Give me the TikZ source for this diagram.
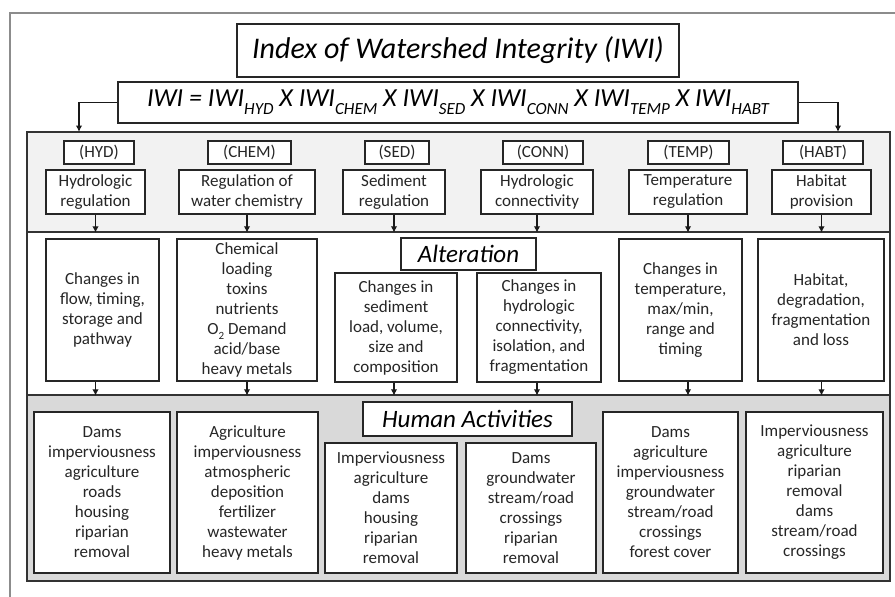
\documentclass[tikz,border=0pt]{standalone}
\usepackage{fontspec}
\usetikzlibrary{arrows.meta}
\setmainfont{Carlito}
\newcommand{\lowsub}[2]{\raisebox{-0.3em}{\fontsize{#1}{#1}\selectfont #2}}
\begin{document}
\begin{tikzpicture}[x=1pt,y=-1pt]
	\tikzstyle{frameline}=[black!45,line width=1.5pt]
	\tikzstyle{band}=[draw=black!80,line width=1.5pt,inner sep=0pt,minimum width=863pt]
	\tikzstyle{box}=[draw=black!85,fill=white,line width=1.3pt,align=center,inner sep=0pt,text=black!85,font=\fontsize{17}{20}\selectfont]
	\tikzstyle{tag}=[box,minimum height=23pt]
	\tikzstyle{heading}=[draw=black!85,fill=white,line width=1.3pt,inner sep=0pt,font=\fontsize{25}{30}\selectfont\itshape]
	\tikzstyle{myarrow}=[line width=1.3pt,black!90,-{Latex[length=6.5pt,width=6.5pt]}]
	\useasboundingbox (0,0) rectangle (895,597);

	% open frame round the figure
	\draw[frameline] (10,597) -- (10,13) -- (895,13);

	% three bands
	\node[band,fill=gray!10,minimum height=100pt] (band1) at (458.5,182) {};
	\node[band,fill=white,minimum height=163pt] (band2) at (458.5,313.5) {};
	\node[band,fill=gray!30,minimum height=186pt] (band3) at (458.5,488) {};

	% title and equation
	\node[heading,minimum width=442pt,minimum height=53pt,font=\fontsize{30}{36}\selectfont\itshape] (title) at (458,50.5) {Index of Watershed Integrity (IWI)};
	\node[heading,minimum width=680pt,minimum height=41pt,font=\fontsize{26}{30}\selectfont\itshape] (eq) at (458,102.5)
		{IWI = IWI\lowsub{17}{HYD} X IWI\lowsub{17}{CHEM} X IWI\lowsub{17}{SED} X IWI\lowsub{17}{CONN} X IWI\lowsub{17}{TEMP} X IWI\lowsub{17}{HABT}};
	\coordinate (inl) at (79,132);
	\coordinate (inr) at (838,132);
	\draw[myarrow] (eq.west) -| (inl);
	\draw[myarrow] (eq.east) -| (inr);

	% functions
	\foreach \nm/\cx/\w/\t in {hyd/99/70/HYD,chem/249.5/83/CHEM,sed/397/64/SED,conn/543/80/CONN,temp/688.5/81/TEMP,habt/823/80/HABT}
		{ \node[tag,minimum width=\w pt] (t\nm) at (\cx,152.5) {(\t)}; }
	\foreach \nm/\cx/\w/\t in {hyd/95.5/99/{Hydrologic\\regulation},chem/247/136/{Regulation of\\water chemistry},sed/394/102/{Sediment\\regulation},conn/537/112/{Hydrologic\\connectivity},temp/688/118/{Temperature\\regulation},habt/821.5/99/{Habitat\\provision}}
		{ \node[box,minimum width=\w pt,minimum height=44pt] (f\nm) at (\cx,192) {\t}; }

	% alteration
	\node[heading,minimum width=135pt,minimum height=32pt] (alt) at (468.5,254) {Alteration};
	\node[box,minimum width=113pt,minimum height=142pt] (ahyd) at (102.5,310) {Changes in\\flow, timing,\\storage and\\pathway};
	\node[box,minimum width=140pt,minimum height=142pt] (achem) at (247,310) {Chemical\\loading\\toxins\\nutrients\\O\lowsub{11}{2} Demand\\acid/base\\heavy metals};
	\node[box,minimum width=122pt,minimum height=109pt] (ased) at (396,327.5) {Changes in\\sediment\\load, volume,\\size and\\composition};
	\node[box,minimum width=124pt,minimum height=109pt] (aconn) at (539,327.5) {Changes in\\hydrologic\\connectivity,\\isolation, and\\fragmentation};
	\node[box,minimum width=123pt,minimum height=142pt] (atemp) at (680.5,310) {Changes in\\temperature,\\max/min,\\range and\\timing};
	\node[box,minimum width=126pt,minimum height=142pt] (ahabt) at (821,310) {Habitat,\\degradation,\\fragmentation\\and loss};

	% human activities
	\node[heading,minimum width=209pt,minimum height=34pt] (hum) at (467.5,419) {Human Activities};
	\node[box,minimum width=136pt,minimum height=161pt] (hhyd) at (102,492.5) {Dams\\imperviousness\\agriculture\\roads\\housing\\riparian\\removal};
	\node[box,minimum width=141pt,minimum height=161pt] (hchem) at (247.5,492.5) {Agriculture\\imperviousness\\atmospheric\\deposition\\fertilizer\\wastewater\\heavy metals};
	\node[box,minimum width=132pt,minimum height=130pt] (hsed) at (391,508) {Imperviousness\\agriculture\\dams\\housing\\riparian\\removal};
	\node[box,minimum width=130pt,minimum height=130pt] (hconn) at (531,508) {Dams\\groundwater\\stream/road\\crossings\\riparian\\removal};
	\node[box,minimum width=135pt,minimum height=161pt] (htemp) at (670.5,492.5) {Dams\\agriculture\\imperviousness\\groundwater\\stream/road\\crossings\\forest cover};
	\node[box,minimum width=137pt,minimum height=161pt] (hhabt) at (814.5,492.5) {Imperviousness\\agriculture\\riparian\\removal\\dams\\stream/road\\crossings};

	\foreach \nm in {hyd,chem,sed,conn,temp,habt} {
		\draw[myarrow] (f\nm.south) -- (f\nm.south |- band1.south);
		\draw[myarrow] (f\nm.south |- a\nm.south) -- (f\nm.south |- band2.south);
	}
\end{tikzpicture}
\end{document}
